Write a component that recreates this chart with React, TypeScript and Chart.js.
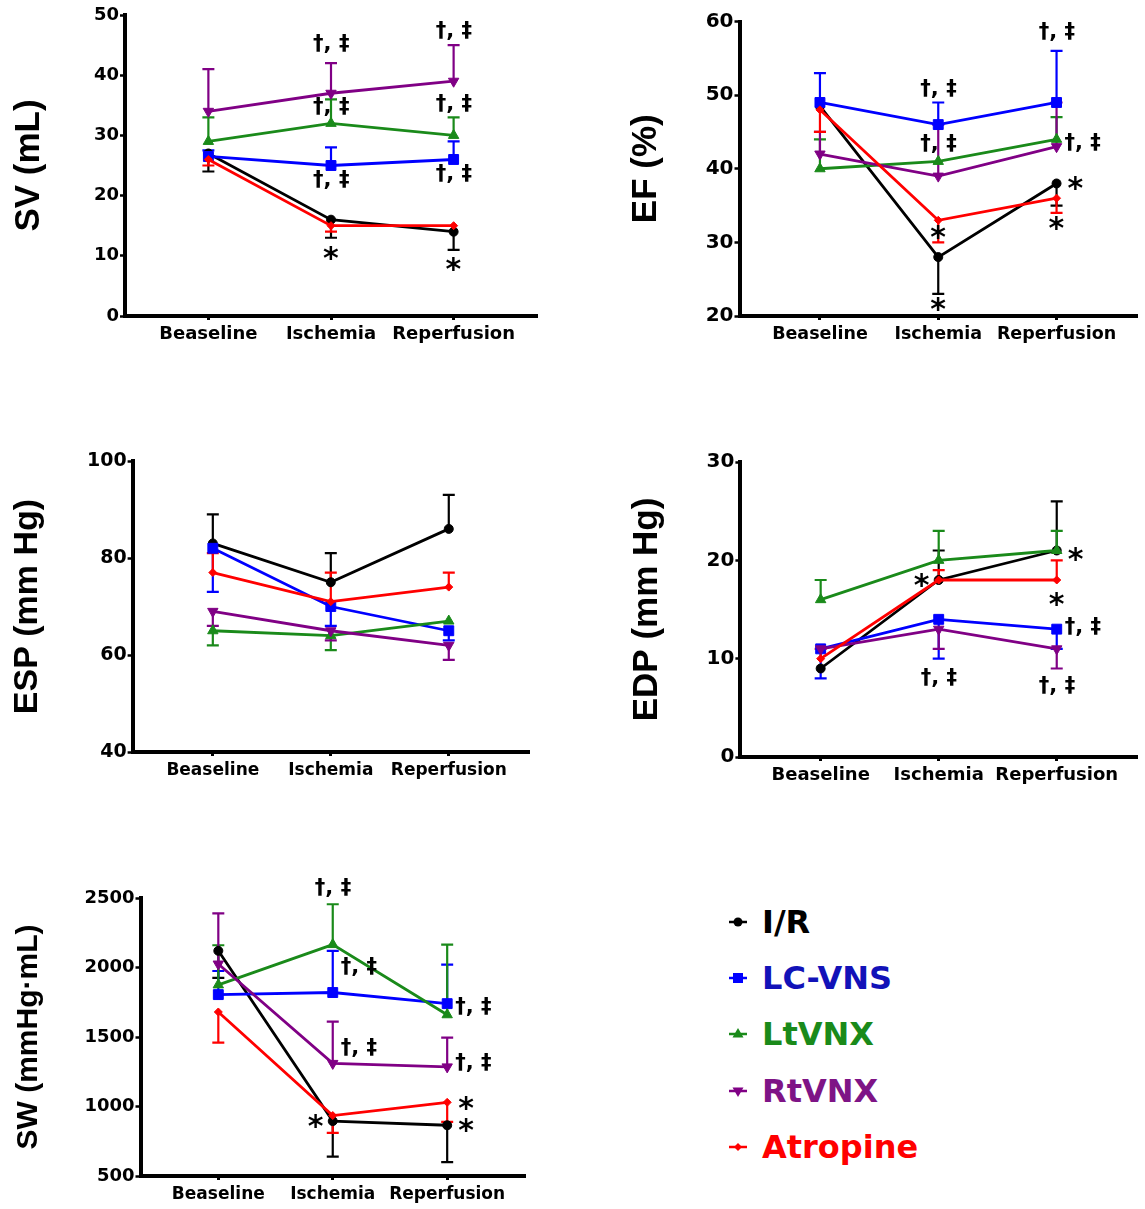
import React, { useEffect, useRef } from 'react';
import { Chart, registerables } from 'chart.js';

Chart.register(...registerables);

// ---------------- data ----------------
const CATEGORIES = ['Beaseline', 'Ischemia', 'Reperfusion'];
const GROUPS = ['I/R', 'LC-VNS', 'LtVNX', 'RtVNX', 'Atropine'];

// SV (mL) – means and error-bar end values
const SV_IR = [27, 16, 14];
const SV_LCVNS = [26.5, 25, 26];
const SV_LTVNX = [29, 32, 30];
const SV_RTVNX = [34, 37, 39];
const SV_ATROPINE = [26, 15, 15];
const SV_IR_ERR = [24, 13, 11];
const SV_LCVNS_ERR = [27.5, 28, 29];
const SV_LTVNX_ERR = [33, 36, 33];
const SV_RTVNX_ERR = [41, 42, 45];
const SV_ATROPINE_ERR = [25, 14, null];

// EF (%)
const EF_IR = [48.5, 28, 38];
const EF_LCVNS = [49, 46, 49];
const EF_LTVNX = [40, 41, 44];
const EF_RTVNX = [42, 39, 43];
const EF_ATROPINE = [48, 33, 36];
const EF_IR_ERR = [null, 23, 35];
const EF_LCVNS_ERR = [53, 49, 56];
const EF_LTVNX_ERR = [44, null, 47];
const EF_RTVNX_ERR = [45, 46, 49];
const EF_ATROPINE_ERR = [45, 30, 34];

// ESP (mm Hg)
const ESP_IR = [83, 75, 86];
const ESP_LCVNS = [82, 70, 65];
const ESP_LTVNX = [65, 64, 67];
const ESP_RTVNX = [69, 65, 62];
const ESP_ATROPINE = [77, 71, 74];
const ESP_IR_ERR = [89, 81, 93];
const ESP_LCVNS_ERR = [73, 66, 63];
const ESP_LTVNX_ERR = [62, 61, null];
const ESP_RTVNX_ERR = [66, 63, 59];
const ESP_ATROPINE_ERR = [81, 77, 77];

// EDP (mm Hg)
const EDP_IR = [9, 18, 21];
const EDP_LCVNS = [11, 14, 13];
const EDP_LTVNX = [16, 20, 21];
const EDP_RTVNX = [11, 13, 11];
const EDP_ATROPINE = [10, 18, 18];
const EDP_IR_ERR = [null, 21, 26];
const EDP_LCVNS_ERR = [8, 10, 11];
const EDP_LTVNX_ERR = [18, 23, 23];
const EDP_RTVNX_ERR = [null, 11, 9];
const EDP_ATROPINE_ERR = [11, 19, 20];

// SW (mmHg·mL)
const SW_IR = [2120, 895, 865];
const SW_LCVNS = [1805, 1820, 1740];
const SW_LTVNX = [1875, 2165, 1660];
const SW_RTVNX = [2025, 1310, 1285];
const SW_ATROPINE = [1680, 935, 1030];
const SW_IR_ERR = [1925, 640, 600];
const SW_LCVNS_ERR = [1975, 2120, 2020];
const SW_LTVNX_ERR = [2160, 2455, 2165];
const SW_RTVNX_ERR = [2390, 1610, 1495];
const SW_ATROPINE_ERR = [1460, 810, 890];

// significance marks: x = category index, y = value, place = c | r | sr | sl
const DAG = '†, ‡';
const STAR = '*';
const SV_MARKS = [
  { x: 1, y: 45.3, text: DAG, place: 'c' },
  { x: 2, y: 47.5, text: DAG, place: 'c' },
  { x: 1, y: 34.8, text: DAG, place: 'c' },
  { x: 2, y: 35.3, text: DAG, place: 'c' },
  { x: 1, y: 22.6, text: DAG, place: 'c' },
  { x: 2, y: 23.7, text: DAG, place: 'c' },
  { x: 1, y: 10.4, text: STAR, place: 'c' },
  { x: 2, y: 8.5, text: STAR, place: 'c' },
];
const EF_MARKS = [
  { x: 1, y: 50.9, text: DAG, place: 'c' },
  { x: 2, y: 58.7, text: DAG, place: 'c' },
  { x: 1, y: 43.4, text: DAG, place: 'c' },
  { x: 2, y: 43.6, text: DAG, place: 'r' },
  { x: 1, y: 31.3, text: STAR, place: 'c' },
  { x: 1, y: 21.6, text: STAR, place: 'c' },
  { x: 2, y: 38, text: STAR, place: 'sr' },
  { x: 2, y: 32.6, text: STAR, place: 'c' },
];
const ESP_MARKS: any[] = [];
const EDP_MARKS = [
  { x: 1, y: 17.9, text: STAR, place: 'sl' },
  { x: 2, y: 20.6, text: STAR, place: 'sr' },
  { x: 2, y: 16, text: STAR, place: 'c' },
  { x: 2, y: 13.3, text: DAG, place: 'r' },
  { x: 1, y: 8.1, text: DAG, place: 'c' },
  { x: 2, y: 7.3, text: DAG, place: 'c' },
];
const SW_MARKS = [
  { x: 1, y: 2578, text: DAG, place: 'c' },
  { x: 1, y: 2008, text: DAG, place: 'r' },
  { x: 2, y: 1723, text: DAG, place: 'r' },
  { x: 1, y: 1426, text: DAG, place: 'r' },
  { x: 2, y: 1320, text: DAG, place: 'r' },
  { x: 2, y: 1023, text: STAR, place: 'sr' },
  { x: 2, y: 861, text: STAR, place: 'sr' },
  { x: 1, y: 892, text: STAR, place: 'sl' },
];

// ---------------- styles ----------------
const COLORS = ['#000000', '#0000ff', '#1a8a1a', '#800085', '#ff0000'];
const LEGEND_TEXT_COLORS = ['#000000', '#1212b8', '#1a8a1a', '#7e1486', '#ff0000'];
const POINT_STYLES = ['circle', 'rect', 'triangle', 'triangle', 'rectRot'];
const POINT_RADII = [4.5, 7, 6, 6, 4];
const POINT_ROT = [0, 0, 0, 180, 0];
const X_MIN = -0.68;
const X_MAX = 2.68;
const TICK_FONT = "'DejaVu Sans', sans-serif";
const TITLE_FONT = "'Liberation Sans', Arial, sans-serif";

const PANELS = [
  {
    key: 'sv', title: 'SV (mL)', titleSize: 35, tickSize: 18, labelSize: 18,
    yMin: 0, yMax: 50, yStep: 10,
    values: [SV_IR, SV_LCVNS, SV_LTVNX, SV_RTVNX, SV_ATROPINE],
    errs: [SV_IR_ERR, SV_LCVNS_ERR, SV_LTVNX_ERR, SV_RTVNX_ERR, SV_ATROPINE_ERR],
    marks: SV_MARKS,
    titleX: 29, L: 125, T: 15, R: 539, B: 316,
    box: { left: 0, top: 0, width: 545, height: 360 },
  },
  {
    key: 'ef', title: 'EF (%)', titleSize: 35, tickSize: 20, labelSize: 17.5,
    yMin: 20, yMax: 60, yStep: 10,
    values: [EF_IR, EF_LCVNS, EF_LTVNX, EF_RTVNX, EF_ATROPINE],
    errs: [EF_IR_ERR, EF_LCVNS_ERR, EF_LTVNX_ERR, EF_RTVNX_ERR, EF_ATROPINE_ERR],
    marks: EF_MARKS,
    titleX: 646, L: 739.5, T: 21.5, R: 1144, B: 316,
    box: { left: 560, top: 0, width: 585, height: 360 },
  },
  {
    key: 'esp', title: 'ESP (mm Hg)', titleSize: 34, tickSize: 19, labelSize: 17,
    yMin: 40, yMax: 100, yStep: 20,
    values: [ESP_IR, ESP_LCVNS, ESP_LTVNX, ESP_RTVNX, ESP_ATROPINE],
    errs: [ESP_IR_ERR, ESP_LCVNS_ERR, ESP_LTVNX_ERR, ESP_RTVNX_ERR, ESP_ATROPINE_ERR],
    marks: ESP_MARKS,
    titleX: 27.5, L: 132.6, T: 461, R: 529, B: 752,
    box: { left: 0, top: 400, width: 545, height: 400 },
  },
  {
    key: 'edp', title: 'EDP (mm Hg)', titleSize: 35, tickSize: 20, labelSize: 18,
    yMin: 0, yMax: 30, yStep: 10,
    values: [EDP_IR, EDP_LCVNS, EDP_LTVNX, EDP_RTVNX, EDP_ATROPINE],
    errs: [EDP_IR_ERR, EDP_LCVNS_ERR, EDP_LTVNX_ERR, EDP_RTVNX_ERR, EDP_ATROPINE_ERR],
    marks: EDP_MARKS,
    titleX: 647.6, L: 740.4, T: 462, R: 1145, B: 757,
    box: { left: 560, top: 400, width: 585, height: 400 },
  },
  {
    key: 'sw', title: 'SW (mmHg·mL)', titleSize: 30, tickSize: 18, labelSize: 17,
    yMin: 500, yMax: 2500, yStep: 500,
    values: [SW_IR, SW_LCVNS, SW_LTVNX, SW_RTVNX, SW_ATROPINE],
    errs: [SW_IR_ERR, SW_LCVNS_ERR, SW_LTVNX_ERR, SW_RTVNX_ERR, SW_ATROPINE_ERR],
    marks: SW_MARKS,
    titleX: 29, L: 140.5, T: 898, R: 525, B: 1176,
    box: { left: 0, top: 845, width: 545, height: 364 },
  },
];

function errorBarPlugin(errs: (number | null)[][], values: number[][]) {
  return {
    id: 'errorBars',
    beforeDatasetsDraw(chart: any) {
      const { ctx, scales } = chart;
      const xs = scales.x;
      const ys = scales.y;
      ctx.save();
      ctx.lineWidth = 2.2;
      ctx.lineCap = 'butt';
      for (let i = 0; i < errs.length; i++) {
        ctx.strokeStyle = COLORS[i];
        for (let j = 0; j < errs[i].length; j++) {
          const e = errs[i][j];
          if (e === null || e === undefined) continue;
          const px = xs.getPixelForValue(j);
          const y0 = ys.getPixelForValue(values[i][j]);
          const y1 = ys.getPixelForValue(e);
          ctx.beginPath();
          ctx.moveTo(px, y0);
          ctx.lineTo(px, y1);
          ctx.moveTo(px - 6, y1);
          ctx.lineTo(px + 6, y1);
          ctx.stroke();
        }
      }
      ctx.restore();
    },
  };
}

function marksPlugin(marks: any[]) {
  return {
    id: 'sigMarks',
    afterDatasetsDraw(chart: any) {
      const { ctx, scales } = chart;
      const xs = scales.x;
      const ys = scales.y;
      ctx.save();
      ctx.fillStyle = '#000';
      ctx.textAlign = 'left';
      ctx.textBaseline = 'alphabetic';
      for (const m of marks) {
        const isStar = m.text === STAR;
        ctx.font = `bold ${isStar ? 30 : 21}px ${TICK_FONT}`;
        const met = ctx.measureText(m.text);
        const w = met.actualBoundingBoxLeft + met.actualBoundingBoxRight;
        const cx = xs.getPixelForValue(m.x);
        let left;
        if (m.place === 'c') left = cx - w / 2;
        else if (m.place === 'r') left = cx + 8;
        else if (m.place === 'sr') left = cx + 19 - w / 2;
        else left = cx - 17 - w / 2;
        const cy = ys.getPixelForValue(m.y);
        const by = cy + (met.actualBoundingBoxAscent - met.actualBoundingBoxDescent) / 2;
        ctx.fillText(m.text, left + met.actualBoundingBoxLeft, by);
      }
      ctx.restore();
    },
  };
}

function Panel({ cfg }: { cfg: any }) {
  const ref = useRef<HTMLCanvasElement>(null);
  useEffect(() => {
    const canvas = ref.current;
    if (!canvas) return;
    const box = cfg.box;
    const padLeft = cfg.titleX - cfg.titleSize / 2 - box.left;
    const padTop = cfg.T - box.top;
    const padRight = Math.max(0, box.left + box.width - cfg.R);
    const yWidth = cfg.L - box.left - padLeft;
    const xHeight = box.top + box.height - cfg.B;
    const chart = new Chart(canvas, {
      type: 'line',
      data: {
        datasets: GROUPS.map((g, i) => ({
          label: g,
          data: cfg.values[i].map((v: number, j: number) => ({ x: j, y: v })),
          borderColor: COLORS[i],
          backgroundColor: COLORS[i],
          pointBackgroundColor: COLORS[i],
          pointBorderColor: COLORS[i],
          pointStyle: POINT_STYLES[i] as any,
          pointRadius: POINT_RADII[i],
          pointRotation: POINT_ROT[i],
          pointBorderWidth: 1,
          borderWidth: 2.8,
          tension: 0,
          order: GROUPS.length - 1 - i,
        })),
      },
      options: {
        responsive: false,
        animation: false,
        events: [],
        layout: { padding: { left: padLeft, top: padTop, right: padRight, bottom: 0 } },
        plugins: { legend: { display: false }, tooltip: { enabled: false } },
        scales: {
          x: {
            type: 'linear',
            min: X_MIN,
            max: X_MAX,
            afterBuildTicks: (s: any) => {
              s.ticks = CATEGORIES.map((_, i) => ({ value: i }));
            },
            afterFit: (s: any) => {
              s.height = xHeight;
            },
            ticks: {
              callback: (v: any) => CATEGORIES[v] ?? '',
              font: { family: TICK_FONT, size: cfg.labelSize, weight: 'bold' },
              color: '#000',
              padding: 4,
              autoSkip: false,
              maxRotation: 0,
            },
            grid: { drawOnChartArea: false, drawTicks: true, tickLength: 4, tickWidth: 3, tickColor: '#000' },
            border: { display: true, color: '#000', width: 4 },
          },
          y: {
            type: 'linear',
            min: cfg.yMin,
            max: cfg.yMax,
            afterFit: (s: any) => {
              s.width = yWidth;
            },
            ticks: {
              stepSize: cfg.yStep,
              callback: (v: any) => String(v),
              font: { family: TICK_FONT, size: cfg.tickSize, weight: 'bold' },
              color: '#000',
              padding: 1,
            },
            grid: { drawOnChartArea: false, drawTicks: true, tickLength: 5, tickWidth: 2.5, tickColor: '#000' },
            border: { display: true, color: '#000', width: 4 },
            title: {
              display: true,
              text: cfg.title,
              font: { family: TITLE_FONT, size: cfg.titleSize, weight: 'bold', lineHeight: 1 },
              color: '#000',
              padding: 0,
            },
          },
        },
      } as any,
      plugins: [errorBarPlugin(cfg.errs, cfg.values), marksPlugin(cfg.marks)],
    });
    return () => chart.destroy();
  }, [cfg]);
  const b = cfg.box;
  return (
    <canvas
      ref={ref}
      width={b.width}
      height={b.height}
      style={{ position: 'absolute', left: b.left, top: b.top, width: b.width, height: b.height }}
    />
  );
}

function LegendMarker({ i }: { i: number }) {
  const c = COLORS[i];
  const cx = 12;
  const cy = 14;
  let shape: any = null;
  if (i === 0) shape = <circle cx={cx} cy={cy} r={4.5} fill={c} />;
  else if (i === 1) shape = <rect x={cx - 5} y={cy - 5} width={10} height={10} fill={c} />;
  else if (i === 2) shape = <polygon points={`${cx},${cy - 6} ${cx + 5.5},${cy + 3.5} ${cx - 5.5},${cy + 3.5}`} fill={c} />;
  else if (i === 3) shape = <polygon points={`${cx},${cy + 6} ${cx + 5.5},${cy - 3.5} ${cx - 5.5},${cy - 3.5}`} fill={c} />;
  else shape = <polygon points={`${cx},${cy - 4} ${cx + 4},${cy} ${cx},${cy + 4} ${cx - 4},${cy}`} fill={c} />;
  return (
    <svg width={24} height={28} style={{ position: 'absolute', left: 726, top: -14 }}>
      <line x1={3} x2={21} y1={cy} y2={cy} stroke={c} strokeWidth={2.5} />
      {shape}
    </svg>
  );
}

function Legend() {
  return (
    <>
      {GROUPS.map((g, i) => (
        <div key={g} style={{ position: 'absolute', left: 0, top: 922 + i * 56.2, width: 0, height: 0 }}>
          <LegendMarker i={i} />
          <span
            style={{
              position: 'absolute',
              left: 762,
              top: -15,
              whiteSpace: 'nowrap',
              fontFamily: TICK_FONT,
              fontWeight: 'bold',
              fontSize: 32,
              lineHeight: '31px',
              color: LEGEND_TEXT_COLORS[i],
            }}
          >
            {g}
          </span>
        </div>
      ))}
    </>
  );
}

export default function App() {
  return (
    <div style={{ position: 'absolute', left: 0, top: 0, width: 1145, height: 1209, background: '#fff', overflow: 'hidden' }}>
      {PANELS.map((p) => (
        <Panel key={p.key} cfg={p} />
      ))}
      <Legend />
    </div>
  );
}
